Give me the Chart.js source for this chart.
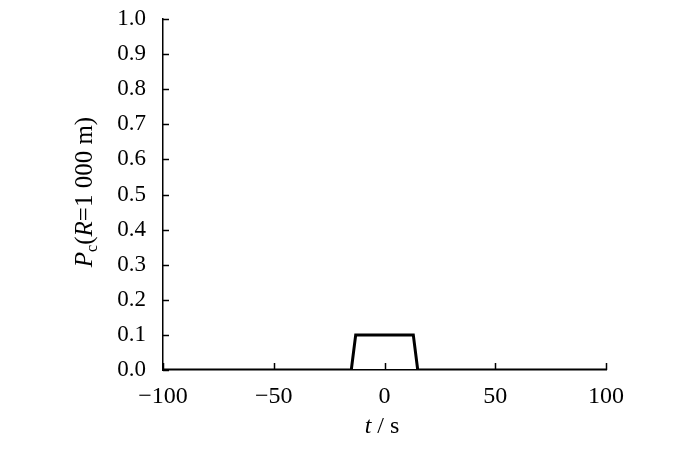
<!DOCTYPE html>
<html>
<head>
<meta charset="utf-8">
<script src="https://cdn.jsdelivr.net/npm/chart.js@4/dist/chart.umd.min.js"></script>
<style>
  html, body { margin: 0; padding: 0; background: #fff; }
  #wrap { width: 700px; height: 449px; }
</style>
</head>
<body>
<div id="wrap"><canvas id="pc"></canvas></div>
<script>
// time (s) and probability
const tValues = [-100, -15, -13, 13, 15, 100];
const pValues = [0, 0, 0.1, 0.1, 0, 0];
const xTicks = [-100, -50, 0, 50, 100];
const yTicks = [0, 0.1, 0.2, 0.3, 0.4, 0.5, 0.6, 0.7, 0.8, 0.9, 1.0];

const serif = "'Liberation Serif', 'Times New Roman', serif";

// inward tick marks + axis titles with italic / subscript parts
const decor = {
    id: "decor",
    afterDraw(c) {
        const ctx = c.ctx;
        const xs = c.scales.x, ys = c.scales.y;
        const area = c.chartArea;
        ctx.save();
        ctx.strokeStyle = "#000";
        ctx.lineWidth = 1.5;
        for (const v of xTicks) {
            const px = Math.round(xs.getPixelForValue(v)) + 0.5;
            ctx.beginPath();
            ctx.moveTo(px, area.bottom);
            ctx.lineTo(px, area.bottom - 7);
            ctx.stroke();
        }
        for (const v of yTicks) {
            const py = Math.round(ys.getPixelForValue(v)) + 0.5;
            ctx.beginPath();
            ctx.moveTo(area.left, py);
            ctx.lineTo(area.left + 6, py);
            ctx.stroke();
        }

        ctx.fillStyle = "#000";
        ctx.textBaseline = "alphabetic";

        // x title: t / s
        const parts = [["italic 24px " + serif, "t"], ["24px " + serif, " / s"]];
        let w = 0;
        for (const p of parts) { ctx.font = p[0]; w += ctx.measureText(p[1]).width; }
        let x0 = 382 - w / 2;
        for (const p of parts) {
            ctx.font = p[0];
            ctx.fillText(p[1], x0, 433);
            x0 += ctx.measureText(p[1]).width;
        }

        // y title: Pc(R=1 000 m)
        ctx.translate(92, 192);
        ctx.rotate(-Math.PI / 2);
        const yp = [
            ["italic 25px " + serif, "P", 0],
            ["16px " + serif, "c", 5],
            ["25px " + serif, "(", 0],
            ["italic 25px " + serif, "R", 0],
            ["25px " + serif, "=1 000 m)", 0]
        ];
        w = 0;
        for (const p of yp) { ctx.font = p[0]; w += ctx.measureText(p[1]).width; }
        x0 = -w / 2;
        for (const p of yp) {
            ctx.font = p[0];
            ctx.fillText(p[1], x0, p[2]);
            x0 += ctx.measureText(p[1]).width;
        }
        ctx.restore();
    }
};

const points = tValues.map((t, i) => ({ x: t, y: pValues[i] }));

new Chart(document.getElementById("pc"), {
    type: "line",
    data: {
        datasets: [{
            data: points,
            borderColor: "#000",
            borderWidth: 3,
            pointRadius: 0,
            tension: 0,
            fill: false
        }]
    },
    options: {
        responsive: true,
        maintainAspectRatio: false,
        animation: false,
        layout: { padding: { left: 0, right: 94, top: 19, bottom: 0 } },
        plugins: { legend: { display: false }, tooltip: { enabled: false } },
        scales: {
            x: {
                type: "linear",
                min: -100,
                max: 100,
                afterBuildTicks: s => { s.ticks = xTicks.map(v => ({ value: v })); },
                afterFit: s => { s.height = 79; s.paddingLeft = 0; s.paddingRight = 0; },
                grid: { display: false },
                border: { display: true, color: "#000", width: 1.5 },
                ticks: {
                    color: "#000",
                    padding: 4,
                    maxRotation: 0,
                    font: { family: serif, size: 24 },
                    callback: v => (v < 0 ? "\u2212" + Math.abs(v) : String(v))
                }
            },
            y: {
                min: 0,
                max: 1,
                afterBuildTicks: s => { s.ticks = yTicks.map(v => ({ value: v })); },
                afterFit: s => { s.width = 163; s.paddingTop = 0; s.paddingBottom = 0; },
                grid: { display: false },
                border: { display: true, color: "#000", width: 1.5 },
                ticks: {
                    color: "#000",
                    padding: 9,
                    font: { family: serif, size: 23 },
                    callback: v => Number(v).toFixed(1)
                }
            }
        }
    },
    plugins: [decor]
});
</script>
</body>
</html>
